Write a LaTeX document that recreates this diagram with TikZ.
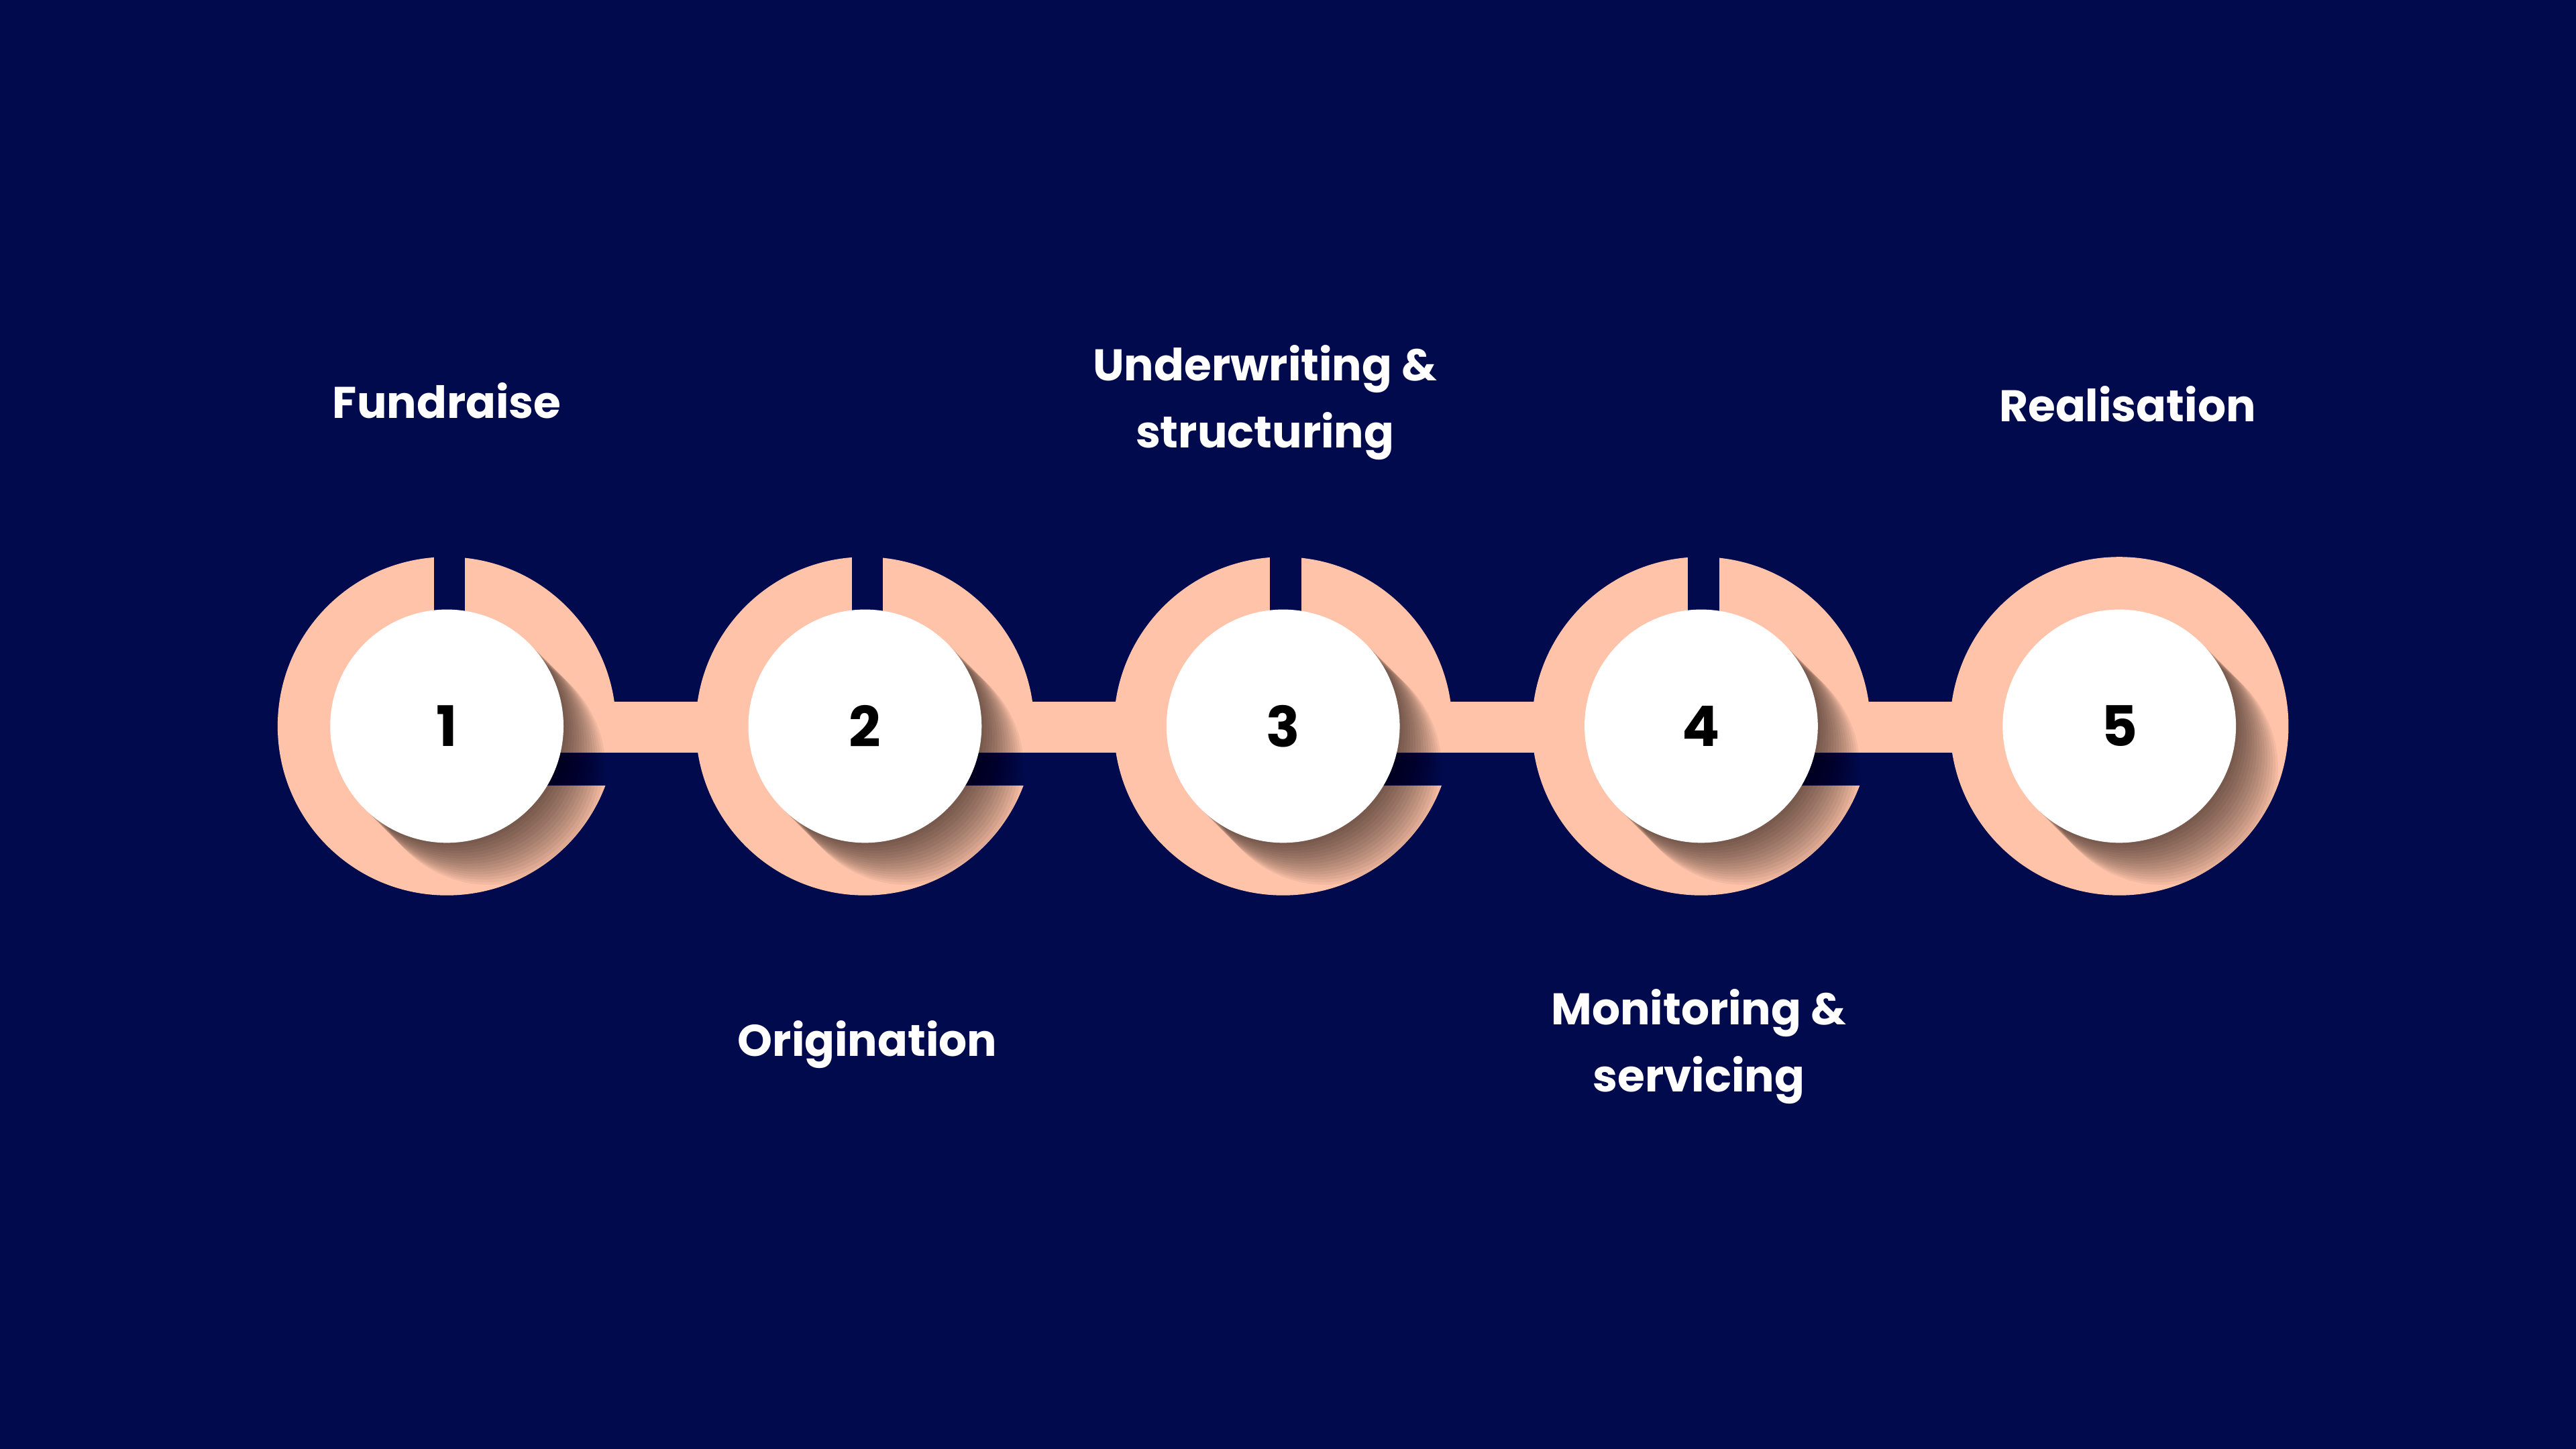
\documentclass[tikz,border=0pt]{standalone}
\usepackage{fontspec}
\setmainfont{Poppins}
\begin{document}
\begin{tikzpicture}[x=1pt,y=-1pt,
  lbl/.style={text=white,font=\fontsize{27}{41}\selectfont\bfseries,align=center},
  num/.style={text=black,font=\fontsize{34}{40}\selectfont\bfseries}]
\definecolor{bg}{RGB}{0,10,77}
\definecolor{peach}{RGB}{254,195,169}
\fill[bg] (0,0) rectangle (1568,882);
\useasboundingbox (0,0) rectangle (1568,882);
% connectors
\foreach \i in {0,...,3}{
  \pgfmathsetmacro\cx{272+254.5*\i}
  \fill[peach] (\cx,427) rectangle (\cx+254.5,458);
}
\foreach \i in {0,...,4}{
  \pgfmathsetmacro\cx{272+254.5*\i}
  \fill[peach] (\cx,442) circle (103);
  \ifnum\i<4
    \fill[bg] (\cx-8,336) rectangle (\cx+11,380);
    \fill[bg] (\cx,458) rectangle (\cx+106,478);
  \fi
  \begin{scope}
    \clip (\cx,442) circle (103);
    \foreach \k in {1,...,16}{
      \fill[black,opacity=0.045] (\cx+\k*1.6,442+\k*1.6) circle (71);
    }
  \end{scope}
  \fill[white] (\cx,442) circle (71);
}
\foreach \i/\n in {0/1,1/2,2/3,3/4,4/5}{
  \node[num] (n\n) at (272+254.5*\i,442) {\n};
}
\node[lbl] (t1) at (272,244) {Fundraise};
\node[lbl] (t2) at (528,636) {Origination};
\node[lbl] (t3) at (770,245) {Underwriting \&\\structuring};
\node[lbl] (t4) at (1034,637) {Monitoring \&\\servicing};
\node[lbl] (t5) at (1295,246) {Realisation};
\end{tikzpicture}
\end{document}
